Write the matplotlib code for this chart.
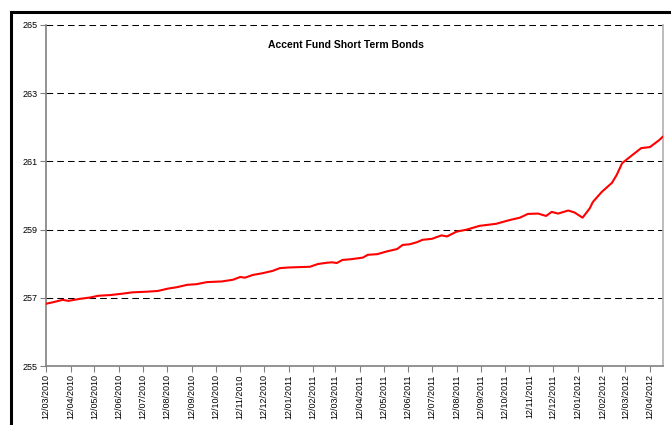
import matplotlib

matplotlib.use("Agg")

import matplotlib.dates as mdates
import matplotlib.pyplot as plt
import pandas as pd
from matplotlib.lines import Line2D

plt.rcParams["font.family"] = ["Liberation Sans", "DejaVu Sans"]

title = "Accent Fund Short Term Bonds"

dates = [
    "2010-03-11", "2010-03-21", "2010-04-02", "2010-04-09", "2010-04-24",
    "2010-05-07", "2010-05-17", "2010-06-01", "2010-06-16", "2010-06-29",
    "2010-07-18", "2010-07-31", "2010-08-13", "2010-08-24", "2010-09-06",
    "2010-09-18", "2010-10-01", "2010-10-20", "2010-11-03", "2010-11-12",
    "2010-11-18", "2010-11-28", "2010-12-10", "2010-12-23", "2011-01-01",
    "2011-01-13", "2011-01-26", "2011-02-08", "2011-02-18", "2011-03-02",
    "2011-03-08", "2011-03-14", "2011-03-21", "2011-03-31", "2011-04-10",
    "2011-04-16", "2011-04-22", "2011-05-04", "2011-05-16", "2011-05-29",
    "2011-06-05", "2011-06-14", "2011-06-23", "2011-06-30", "2011-07-12",
    "2011-07-24", "2011-07-31", "2011-08-12", "2011-08-25", "2011-09-10",
    "2011-10-01", "2011-10-18", "2011-10-31", "2011-11-10", "2011-11-23",
    "2011-12-03", "2011-12-10", "2011-12-18", "2011-12-31", "2012-01-08",
    "2012-01-18", "2012-01-27", "2012-01-31", "2012-02-11", "2012-02-24",
    "2012-03-01", "2012-03-08", "2012-03-21", "2012-04-01", "2012-04-12",
    "2012-04-24", "2012-04-28",
]
prices = [
    256.82, 256.87, 256.94, 256.91, 256.97,
    257.01, 257.06, 257.08, 257.12, 257.16,
    257.18, 257.20, 257.27, 257.31, 257.38,
    257.40, 257.46, 257.48, 257.53, 257.61,
    257.59, 257.67, 257.72, 257.79, 257.87,
    257.89, 257.90, 257.91, 257.99, 258.03,
    258.04, 258.02, 258.11, 258.13, 258.16,
    258.18, 258.26, 258.28, 258.36, 258.43,
    258.55, 258.57, 258.63, 258.70, 258.73,
    258.83, 258.80, 258.94, 259.00, 259.11,
    259.17, 259.28, 259.35, 259.46, 259.47,
    259.40, 259.52, 259.47, 259.56, 259.50,
    259.35, 259.62, 259.81, 260.10, 260.37,
    260.60, 260.95, 261.19, 261.39, 261.42,
    261.63, 261.72,
]

# x ticks fall on the 12th of every month
tick_dates = pd.date_range("2010-03-01", "2012-04-01", freq="MS") + pd.Timedelta(days=11)
y_ticks = [255, 257, 259, 261, 263, 265]

W, H = 671, 425
fig = plt.figure(figsize=(W / 100, H / 100), dpi=100)
ax = fig.add_axes([46 / W, 1 - 366 / H, (663 - 46) / W, (366 - 25) / H])

ax.plot(pd.to_datetime(dates), prices, color="#ff0000", linewidth=1.5, zorder=3)

ax.set_ylim(255, 265)
ax.set_xlim(pd.Timestamp("2010-03-12"), pd.Timestamp("2012-04-28 12:00"))
ax.set_yticks(y_ticks)
ax.set_xticks(tick_dates)
ax.xaxis.set_major_formatter(mdates.DateFormatter("%d/%m/%Y"))

for y in y_ticks[1:]:
    ax.axhline(y, color="#000000", linewidth=0.75, linestyle=(0, (6.4, 3.9)), zorder=1)

for side in ("left", "bottom"):
    ax.spines[side].set_color("#808080")
    ax.spines[side].set_linewidth(1.2)
ax.spines["right"].set_color("#b0b0b0")
ax.spines["right"].set_linewidth(1.2)
ax.spines["top"].set_visible(False)

ax.tick_params(axis="both", direction="out", length=4, width=0.8, color="#808080",
               labelsize=6.5, pad=2)
ax.tick_params(axis="x", labelrotation=90)

ax.text(0.486, 0.941, title, transform=ax.transAxes, ha="center", va="center",
        fontsize=7.5, fontweight="bold")

# chart frame: only its top and left edges fall inside the picture
frame_x, frame_y = 11 / W, 1 - 12 / H
fig.lines.append(Line2D([frame_x, frame_x, 1.0], [0.0, frame_y, frame_y],
                        transform=fig.transFigure, color="black", linewidth=2.2,
                        solid_joinstyle="miter"))

fig.savefig("out.png", dpi=100)
